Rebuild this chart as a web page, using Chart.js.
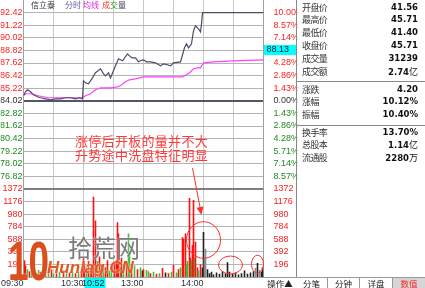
<!DOCTYPE html>
<html>
<head>
<meta charset="utf-8">
<script src="https://cdn.jsdelivr.net/npm/chart.js@4.4.0/dist/chart.umd.min.js"></script>
<style>
body{margin:0;background:#fff;width:425px;height:288px;overflow:hidden;position:relative;font-family:"Noto Sans CJK SC","DejaVu Sans",sans-serif;}
canvas{position:absolute;left:0;}
#priceCanvas{top:0;}
#volCanvas{top:150px;}
.t{position:absolute;white-space:nowrap;line-height:1;}
.row{position:absolute;height:13px;line-height:13px;white-space:nowrap;}
.name{left:302px;font-size:9px;color:#333;letter-spacing:-0.6px;}
.val{right:7px;font-family:"DejaVu Sans";font-weight:bold;font-size:8.5px;color:#111;}
.val span{font-family:"Noto Sans CJK SC";font-weight:normal;font-size:9px;}
.hl{position:absolute;left:296px;width:129px;height:1px;background:#888;}
.tab{position:absolute;top:278px;height:10px;line-height:10px;font-size:8.5px;text-align:center;color:#222;}
</style>
</head>
<body>
<canvas id="priceCanvas" width="425" height="200"></canvas>
<canvas id="volCanvas" width="425" height="138"></canvas>

<div class="t" style="left:31px;top:1px;font-size:8px;color:#303040">信立泰</div>
<div class="t" style="left:65px;top:1px;font-size:8px;color:#5a5a9a">分时</div>
<div class="t" style="left:83px;top:1px;font-size:8px;color:#e020e0">均线</div>
<div class="t" style="left:102px;top:1px;font-size:8px;color:#404060"><span style="color:#ff3020">成</span><span style="color:#20a020">交</span>量</div>

<div class="t" style="left:75px;top:134px;font-size:13px;line-height:14px;color:#ff3838;letter-spacing:0.3px">涨停后开板的量并不大<br>升势途中洗盘特征明显</div>

<div class="t" style="left:8px;top:233px;font-family:'Liberation Sans';font-weight:bold;font-size:56px;color:#d9501e;transform:scaleX(0.66);transform-origin:left top;text-shadow:0 0 2px #fff">10</div>
<div class="t" style="left:68px;top:235px;font-size:24px;color:#7a7a7a;text-shadow:0 0 2px #fff">拾荒网</div>
<div class="t" style="left:47px;top:259px;font-family:'Liberation Sans';font-weight:bold;font-style:italic;font-size:17px;color:#e05a20;text-shadow:0 0 2px #fff">Hunlag.CN</div>

<div style="position:absolute;left:296px;top:0;width:1px;height:277px;background:#888"></div>
<div class="hl" style="top:81px"></div>
<div class="hl" style="top:125px"></div>
<div id="stats"></div>

<div style="position:absolute;left:263px;top:277px;width:162px;height:1px;background:#999"></div>
<div class="tab" style="left:264px;width:32px">操作▲</div>
<div class="tab" style="left:296px;width:31px">分笔</div>
<div class="tab" style="left:328px;width:31px">分钟</div>
<div class="tab" style="left:360px;width:32px">详盘</div>
<div class="tab" style="left:393px;width:32px;background:#d6d6d6;color:#ff2020">数值</div>
<div style="position:absolute;left:327px;top:278px;width:1px;height:10px;background:#999"></div>
<div style="position:absolute;left:359px;top:278px;width:1px;height:10px;background:#999"></div>
<div style="position:absolute;left:392px;top:278px;width:1px;height:10px;background:#999"></div>

<script>
// axis ticks
const priceTicks = [92.42, 91.22, 90.02, 88.82, 87.62, 86.42, 85.22, 84.02, 82.82, 81.62, 80.42, 79.22, 78.02, 76.82, 75.62];
const priceLabels = ['92.42', '91.22', '90.02', '88.82', '87.62', '86.42', '85.22', '84.02', '82.82', '81.62', '80.42', '79.22', '78.02', '76.82', ''];
const pctLabels = ['10.00%', '8.57%', '7.14%', '5.71%', '4.28%', '2.86%', '1.43%', '0.00%', '1.43%', '2.86%', '4.28%', '5.71%', '7.14%', '8.57%', ''];
const priceMin = 75.62, priceMax = 93.62, prevClose = 84.02;
const volTicks = [1372, 1176, 980, 784, 588, 392, 196];
const volLabels = ['1372', '1176', '980', '784', '588', '392', '196'];
const volMax = 1372;
const timeTicks = [0, 30, 60, 90, 120, 150, 180, 210, 240];
const timeLabels = ['09:30', '', '10:30', '', '13:00', '', '14:00', '', ''];

// price line (minutes after 09:30)
const priceMinutes = [0, 2, 4, 7, 10, 14, 17, 22, 27, 32, 37, 42, 47, 52, 56, 59, 60, 62, 65, 69, 72, 77, 80, 82, 85, 87, 90, 92, 95, 99, 104, 107, 109, 112, 115, 117, 120, 123, 127, 132, 137, 140, 144, 147, 150, 157, 161, 163, 165, 168, 170, 172, 175, 177, 178, 179, 240];
const priceValues = [84.50, 84.88, 85.07, 84.88, 84.59, 84.40, 84.31, 84.21, 84.12, 84.21, 84.21, 84.31, 84.31, 84.21, 84.31, 84.21, 85.92, 85.73, 85.64, 86.21, 86.69, 87.07, 86.59, 86.40, 86.69, 86.21, 86.88, 87.35, 88.02, 87.83, 88.49, 88.21, 88.11, 88.11, 87.73, 87.83, 87.92, 87.73, 87.73, 87.64, 87.35, 87.54, 87.45, 87.35, 87.64, 87.73, 89.07, 89.45, 89.07, 89.45, 90.68, 91.16, 90.87, 90.59, 91.35, 92.42, 92.42];

// average line
const avgMinutes = [0, 3, 8, 15, 25, 35, 45, 59, 62, 67, 72, 77, 87, 94, 97, 102, 106, 112, 120, 130, 159, 163, 166, 170, 174, 177, 180, 190, 210, 240];
const avgValues = [84.59, 84.69, 84.69, 84.50, 84.31, 84.31, 84.31, 84.31, 84.50, 84.69, 85.07, 85.26, 85.26, 85.35, 85.45, 85.83, 86.02, 86.11, 86.30, 86.30, 86.30, 86.50, 86.69, 87.07, 87.16, 87.16, 87.64, 87.73, 87.83, 87.92];

// volume bars: r up, g down, k flat, s grey
const volMinutes = [1, 2, 4, 6, 8, 10, 12, 15, 17, 19, 22, 25, 28, 30, 33, 36, 40, 43, 46, 49, 52, 55, 58, 60, 61, 63, 65, 67, 68, 70, 72, 74, 76, 78, 80, 82, 84, 86, 88, 91, 93, 94, 95, 97, 98, 100, 103, 105, 106, 108, 111, 114, 117, 119,
  120, 123, 125, 127, 130, 133, 136, 139, 142, 145, 148, 150, 153, 155, 157, 159, 160, 162, 163, 164, 166, 167, 168, 169, 170, 171, 172, 174, 175, 177, 179, 180, 181, 182,
  184, 186, 188, 190, 193, 196, 199, 202, 204, 206, 209, 212, 215, 218, 221, 224, 227, 230, 232, 234, 236, 238, 239];
const volValues = [260, 180, 120, 90, 150, 70, 60, 110, 80, 60, 90, 70, 120, 50, 60, 80, 100, 60, 70, 90, 60, 80, 70, 300, 200, 150, 250, 120, 180, 1250, 880, 250, 320, 200, 180, 150, 260, 100, 150, 220, 260, 855, 680, 150, 300, 200, 250, 680, 400, 200, 180, 120, 150, 100,
  120, 110, 90, 60, 80, 50, 60, 140, 70, 60, 80, 190, 70, 120, 150, 620, 600, 680, 200, 250, 1230, 300, 260, 500, 1200, 300, 550, 150, 100, 200, 150, 700, 300, 440,
  120, 60, 80, 40, 70, 50, 90, 60, 230, 80, 50, 70, 40, 60, 100, 50, 70, 90, 140, 220, 110, 80, 150];
const volColors = ['r', 'r', 'g', 'r', 'g', 'g', 'r', 'g', 'r', 'g', 'r', 'g', 'r', 'g', 'r', 'g', 'r', 'g', 'r', 'g', 'r', 'g', 'r', 'r', 'r', 'g', 'r', 'g', 'r', 'r', 'r', 'g', 'r', 'r', 'g', 'r', 'r', 'g', 'g', 'r', 'r', 'r', 'r', 'g', 'r', 'g', 'r', 'g', 'g', 'r', 'g', 'r', 'g', 'k',
  'r', 'g', 'g', 'r', 'g', 'r', 'g', 'r', 'k', 'r', 'g', 'r', 'g', 'r', 'g', 'r', 'r', 'r', 'g', 'g', 'r', 'r', 'g', 'r', 'r', 'g', 'r', 'r', 'g', 'r', 'k', 'k', 's', 's',
  'k', 'k', 'k', 'k', 'k', 'k', 'k', 'k', 'k', 'k', 'k', 'k', 'k', 'k', 'k', 'k', 'k', 'k', 's', 'k', 's', 'k', 'k'];
const volPalette = {r: '#ff1010', g: '#38c038', k: '#202020', s: '#8a8a8a'};

// cursor and notes
const cursorMinute = 82, cursorTime = '10:52';
const cursorPrice = 88.82, cursorPriceText = '88.13';
const ringMinutes = [180, 207, 234];
const ringVols = [577, 187, 200];
const ringMinuteRadii = [17, 12, 6];
const ringVolRadii = [285, 140, 140];
const arrowFrom = [169, 1699], arrowTo = [178, 967];

// quote panel
const statNames = [['开盘价', '最高价', '最低价', '收盘价', '成交量', '成交额'], ['涨跌', '涨幅', '振幅'], ['换手率', '总股本', '流通股']];
const statValues = [['41.56', '45.71', '41.40', '45.71', '31239', '2.74|亿'], ['4.20', '10.12%', '10.40%'], ['13.70%', '1.14|亿', '2280|万']];

const groupTops = [0.5, 82.5, 125.5];
const groupStep = [12.8, 12.8, 12.5];
const stats = document.getElementById('stats');
statNames.forEach((g, gi) => {
    g.forEach((name, i) => {
        const top = groupTops[gi] + i * groupStep[gi];
        const n = document.createElement('div');
        n.className = 'row name';
        n.style.top = top + 'px';
        n.textContent = name;
        const v = document.createElement('div');
        v.className = 'row val';
        v.style.top = top + 'px';
        const parts = statValues[gi][i].split('|');
        v.textContent = parts[0];
        if (parts[1]) {
            const s = document.createElement('span');
            s.textContent = parts[1];
            v.append(s);
        }
        stats.append(n, v);
    });
});

const tickFont = {family: 'Liberation Sans', size: 9};
const upColor = '#ff2020', downColor = '#208a20', flatColor = '#303030';
const sideColor = v => v > prevClose + 0.01 ? upColor : (v < prevClose - 0.01 ? downColor : flatColor);
const setTicks = list => s => { s.ticks = list.map(v => ({value: v})); };
const fixWidth = w => s => { s.width = w; s.paddingTop = 0; s.paddingBottom = 0; };

const priceCursor = {
    id: 'priceCursor',
    afterDraw(chart) {
        const {ctx, chartArea, scales: {yR}} = chart;
        const y = yR.getPixelForValue(cursorPrice);
        ctx.save();
        ctx.fillStyle = '#00ffff';
        ctx.fillRect(chartArea.right + 0.5, Math.round(y) - 5, 33, 10);
        ctx.fillStyle = '#102030';
        ctx.font = '9px "Liberation Sans"';
        ctx.textBaseline = 'middle';
        ctx.fillText(cursorPriceText, chartArea.right + 3, Math.round(y));
        ctx.restore();
    }
};

new Chart(document.getElementById('priceCanvas'), {
    type: 'line',
    data: {
        datasets: [{
            data: priceMinutes.map((m, i) => ({x: m, y: priceValues[i]})),
            borderColor: '#4c4c66',
            borderWidth: 1.2,
            pointRadius: 0,
            tension: 0,
            yAxisID: 'y'
        }, {
            data: avgMinutes.map((m, i) => ({x: m, y: avgValues[i]})),
            borderColor: '#ff40ff',
            borderWidth: 1.2,
            pointRadius: 0,
            tension: 0,
            yAxisID: 'y'
        }]
    },
    options: {
        responsive: false,
        animation: false,
        events: [],
        layout: {padding: {left: 0.5, right: 127.5, top: 0, bottom: 11}},
        plugins: {legend: {display: false}, tooltip: {enabled: false}},
        scales: {
            x: {
                type: 'linear', min: 0, max: 240,
                afterBuildTicks: setTicks(timeTicks),
                afterFit: s => { s.height = 0; s.paddingLeft = 0; s.paddingRight = 0; },
                ticks: {display: false},
                grid: {color: '#c8c8c8', drawTicks: false},
                border: {display: false}
            },
            y: {
                position: 'left', min: priceMin, max: priceMax,
                afterBuildTicks: setTicks(priceTicks),
                afterFit: fixWidth(23),
                ticks: {padding: 1, autoSkip: false, font: tickFont, color: c => sideColor(c.tick.value), callback: (v, i) => priceLabels[i]},
                grid: {
                    drawTicks: false,
                    color: c => c.tick.value === prevClose ? '#55556a' : (c.tick.value === priceMin ? '#808080' : '#b4b4b4'),
                    lineWidth: c => (c.tick.value === prevClose || c.tick.value === priceMin) ? 2 : 1
                },
                border: {color: '#a0a0a0'}
            },
            yR: {
                position: 'right', min: priceMin, max: priceMax,
                afterBuildTicks: setTicks(priceTicks),
                afterFit: fixWidth(34),
                ticks: {padding: 2, autoSkip: false, font: tickFont, color: c => sideColor(c.tick.value), callback: (v, i) => pctLabels[i]},
                grid: {display: false},
                border: {color: '#a0a0a0'}
            }
        }
    },
    plugins: [priceCursor]
});

const volNotes = {
    id: 'volNotes',
    afterDraw(chart) {
        const {ctx, chartArea, scales: {x, vol}} = chart;
        ctx.save();
        ctx.strokeStyle = '#ff3030';
        ctx.fillStyle = '#ff3030';
        ctx.lineWidth = 1;
        ringMinutes.forEach((m, i) => {
            const cx = x.getPixelForValue(m);
            const cy = vol.getPixelForValue(ringVols[i]);
            const rx = x.getPixelForValue(m + ringMinuteRadii[i]) - cx;
            const ry = cy - vol.getPixelForValue(ringVols[i] + ringVolRadii[i]);
            ctx.beginPath();
            ctx.ellipse(cx, cy, rx, ry, 0, 0, Math.PI * 2);
            ctx.stroke();
        });
        const x0 = x.getPixelForValue(arrowFrom[0]), y0 = vol.getPixelForValue(arrowFrom[1]);
        const x1 = x.getPixelForValue(arrowTo[0]), y1 = vol.getPixelForValue(arrowTo[1]);
        const a = Math.atan2(y1 - y0, x1 - x0);
        ctx.beginPath();
        ctx.moveTo(x0, y0);
        ctx.lineTo(x1 - 6 * Math.cos(a), y1 - 6 * Math.sin(a));
        ctx.stroke();
        ctx.beginPath();
        ctx.moveTo(x1, y1);
        ctx.lineTo(x1 - 8 * Math.cos(a) + 3.5 * Math.sin(a), y1 - 8 * Math.sin(a) - 3.5 * Math.cos(a));
        ctx.lineTo(x1 - 8 * Math.cos(a) - 3.5 * Math.sin(a), y1 - 8 * Math.sin(a) + 3.5 * Math.cos(a));
        ctx.closePath();
        ctx.fill();
        // time cursor on the axis
        const cx = x.getPixelForValue(cursorMinute);
        ctx.fillStyle = '#00ffff';
        ctx.fillRect(cx - 21, chartArea.bottom + 1, 21, 10);
        ctx.fillStyle = '#102030';
        ctx.font = '9px "Liberation Sans"';
        ctx.textAlign = 'right';
        ctx.textBaseline = 'top';
        ctx.fillText(cursorTime, cx - 1, chartArea.bottom + 2);
        ctx.restore();
    }
};

new Chart(document.getElementById('volCanvas'), {
    type: 'bar',
    data: {
        datasets: [{
            data: volMinutes.map((m, i) => ({x: m, y: volValues[i]})),
            backgroundColor: volColors.map(c => volPalette[c]),
            barThickness: 1.6,
            inflateAmount: 0,
            grouped: false,
            xAxisID: 'x',
            yAxisID: 'vol'
        }]
    },
    options: {
        responsive: false,
        animation: false,
        events: [],
        layout: {padding: {left: 0.5, right: 127.5, top: 39, bottom: 0}},
        plugins: {legend: {display: false}, tooltip: {enabled: false}},
        scales: {
            x: {
                type: 'linear', min: 0, max: 240, offset: false,
                afterBuildTicks: setTicks(timeTicks),
                afterFit: s => { s.height = 11; s.paddingLeft = 0; s.paddingRight = 0; },
                ticks: {align: 'end', padding: 1, autoSkip: false, maxRotation: 0, font: tickFont, color: '#303030', callback: (v, i) => timeLabels[i]},
                grid: {color: '#c8c8c8', drawTicks: false, offset: false},
                border: {color: '#a0a0a0'}
            },
            vol: {
                position: 'left', min: 0, max: volMax,
                afterBuildTicks: setTicks(volTicks),
                afterFit: fixWidth(23),
                ticks: {padding: 1, autoSkip: false, font: tickFont, color: upColor, callback: (v, i) => volLabels[i]},
                grid: {
                    drawTicks: false,
                    color: c => c.tick.value === volMax ? '#808080' : '#b4b4b4',
                    lineWidth: c => c.tick.value === volMax ? 2 : 1
                },
                border: {color: '#a0a0a0'}
            },
            volR: {
                position: 'right', min: 0, max: volMax,
                afterBuildTicks: setTicks(volTicks),
                afterFit: fixWidth(34),
                ticks: {padding: 2, autoSkip: false, font: tickFont, color: upColor, callback: (v, i) => volLabels[i]},
                grid: {display: false},
                border: {color: '#a0a0a0'}
            }
        }
    },
    plugins: [volNotes]
});
</script>
</body>
</html>
